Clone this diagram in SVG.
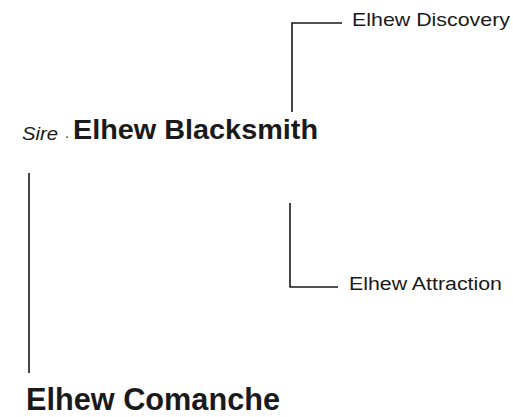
<svg xmlns="http://www.w3.org/2000/svg" width="513" height="417" viewBox="0 0 513 417">
<style>
.ln{stroke:#1a1a1a;stroke-width:1.6;fill:none}
.t{font-family:"Liberation Sans",Arial,sans-serif;fill:#1a1a1a}
.b{font-weight:bold}
</style>
<rect width="513" height="417" fill="#fff"/>
<g id="connectors">
<polyline class="ln" points="342,23 292,23 292,112"/>
<line class="ln" x1="29" y1="173" x2="29" y2="373"/>
<polyline class="ln" points="290,203 290,287 338,287"/>
</g>
<g id="discovery"><text class="t" x="352" y="26" font-size="19" textLength="158" lengthAdjust="spacingAndGlyphs">Elhew Discovery</text></g>
<g id="blacksmith">
<text class="t" x="22" y="140" font-size="18" font-style="italic" textLength="36" lengthAdjust="spacingAndGlyphs">Sire</text>
<text class="t" x="65" y="138" font-size="14">.</text>
<text class="t b" x="73" y="139" font-size="27" textLength="245" lengthAdjust="spacingAndGlyphs">Elhew Blacksmith</text>
</g>
<g id="attraction"><text class="t" x="349" y="290" font-size="18" textLength="153" lengthAdjust="spacingAndGlyphs">Elhew Attraction</text></g>
<g id="comanche"><text class="t b" x="26" y="410" font-size="32" textLength="254" lengthAdjust="spacingAndGlyphs">Elhew Comanche</text></g>
</svg>
